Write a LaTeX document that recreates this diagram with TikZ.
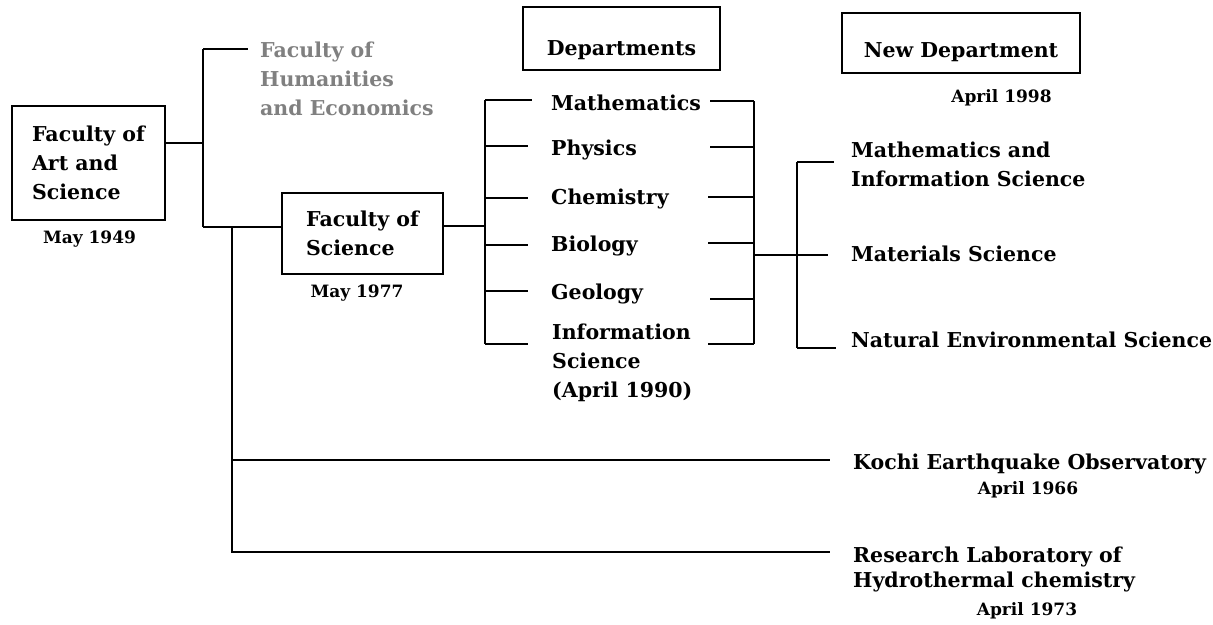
\documentclass[tikz,border=0pt]{standalone}
\usepackage{fontspec}
\setmainfont{DejaVu Serif}
\newcommand{\mainsz}{\fontsize{20.5}{29}\selectfont\bfseries}
\newcommand{\tightsz}{\fontsize{20.5}{25}\selectfont\bfseries}
\newcommand{\datesz}{\fontsize{17}{22}\selectfont\bfseries}
\definecolor{humgrey}{RGB}{128,128,128}
\begin{document}
\begin{tikzpicture}[x=1pt,y=-1pt,
  conn/.style={line width=1.6pt},
  boxnode/.style={draw, line width=1.6pt, inner sep=0pt, align=left, font=\mainsz},
  lbl/.style={inner sep=0pt, font=\mainsz, align=left},
  datelbl/.style={inner sep=0pt, font=\datesz}]
\useasboundingbox (0,0) rectangle (1213,624);
\fill[white] (0,0) rectangle (1213,624);

% boxes
\node[boxnode, minimum width=153, minimum height=114] (fas) at (88.5,163) {Faculty of\\Art and\\Science};
\node[boxnode, minimum width=161, minimum height=81] (fos) at (362.5,233.5) {Faculty of\\Science};
\node[boxnode, minimum width=197, minimum height=63, text height=33pt, text depth=0pt] (dept) at (621.5,38.5) {Departments};
\node[boxnode, minimum width=238, minimum height=60, text height=28pt, text depth=0pt] (newdept) at (961,43) {New Department};

% dates
\node[datelbl, anchor=base] (d49) at (89.5,243) {May 1949};
\node[datelbl, anchor=base] (d77) at (357,297) {May 1977};
\node[datelbl, anchor=base] (d98) at (1001.5,102) {April 1998};
\node[datelbl, anchor=base] (d66) at (1028,494) {April 1966};
\node[datelbl, anchor=base] (d73) at (1027,615) {April 1973};

% labels
\node[lbl, anchor=north west, text=humgrey] (hum) at (260,41.3) {Faculty of\\Humanities\\and Economics};
\node[lbl, anchor=base west] (math) at (551,110) {Mathematics};
\node[lbl, anchor=base west] (phys) at (551,155.5) {Physics};
\node[lbl, anchor=base west] (chem) at (551,204) {Chemistry};
\node[lbl, anchor=base west] (bio) at (551,251.5) {Biology};
\node[lbl, anchor=base west] (geo) at (551,299) {Geology};
\node[lbl, anchor=north west] (info) at (552,323.3) {Information\\Science\\(April 1990)};
\node[lbl, anchor=north west] (mis) at (851,141.3) {Mathematics and\\Information Science};
\node[lbl, anchor=base west] (mat) at (851,261) {Materials Science};
\node[lbl, anchor=base west] (nes) at (851,347) {Natural Environmental Science};
\node[lbl, anchor=base west] (kochi) at (853,469) {Kochi Earthquake Observatory};
\node[lbl, anchor=north west, font=\tightsz] (rlab) at (853,546.3) {Research Laboratory of\\Hydrothermal chemistry};

% junction coordinates
\coordinate (jA) at (203,143);
\coordinate (jAt) at (203,49);
\coordinate (jAb) at (203,227);
\coordinate (humEnd) at (248,49);
\coordinate (jB) at (232,227);
\coordinate (jBk) at (232,460);
\coordinate (jBr) at (232,552);
\coordinate (kEnd) at (830,460);
\coordinate (rEnd) at (830,552);
\coordinate (jC) at (485,226);
\coordinate (jR) at (754,255);
\coordinate (matEnd) at (828,255);
\coordinate (jSt) at (797,162);
\coordinate (jSb) at (797,348);
\coordinate (misEnd) at (834,162);
\coordinate (nesEnd) at (836,348);
\foreach \n/\y/\xe in {1/100/532,2/146/528,3/198/528,4/245/528,5/291/528,6/344/528}{
  \coordinate (L\n) at (485,\y);
  \coordinate (Le\n) at (\xe,\y);
}
\foreach \n/\y/\xs in {1/101/710,2/147/710,3/197/708,4/243/708,5/299/710,6/344/708}{
  \coordinate (R\n) at (754,\y);
  \coordinate (Rs\n) at (\xs,\y);
}

% connectors
\draw[conn] (fas.east |- jA) -- (jA);
\draw[conn] (jAt) -- (jAb);
\draw[conn] (jAt) -- (humEnd);
\draw[conn] (jAb) -- (fos.west |- jAb);
\draw[conn] (jB) -- (jBr) -- (rEnd);
\draw[conn] (jBk) -- (kEnd);
\draw[conn] (fos.east |- jC) -- (jC);
\draw[conn] (L1) -- (L6);
\foreach \n in {1,...,6}{ \draw[conn] (L\n) -- (Le\n); }
\draw[conn] (R1) -- (R6);
\foreach \n in {1,...,6}{ \draw[conn] (Rs\n) -- (R\n); }
\draw[conn] (jR) -- (matEnd);
\draw[conn] (jSt) -- (jSb);
\draw[conn] (jSt) -- (misEnd);
\draw[conn] (jSb) -- (nesEnd);
\end{tikzpicture}
\end{document}
